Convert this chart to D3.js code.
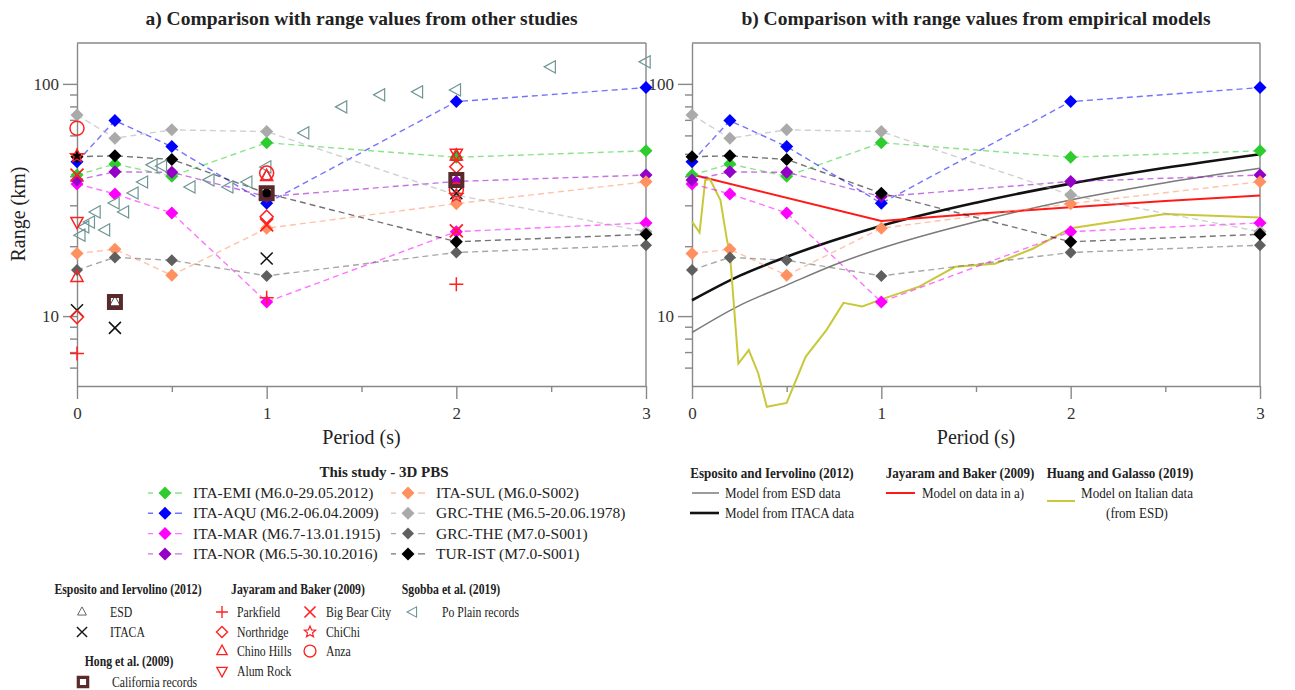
<!DOCTYPE html>
<meta charset="utf-8">
<style>
body { margin: 0; background: #fff; }
text { font-family: "Liberation Serif", "Times New Roman", serif; fill: #222; }
.title { font-weight: bold; font-size: 19.5px; }
.head { font-weight: bold; font-size: 15px; }
.leg { font-size: 15.5px; }
.head2 { font-weight: bold; font-size: 14.5px; }
.leg2 { font-size: 14.5px; }
.tick text { font-size: 17px; fill: #333; }
.axis path, .axis line { stroke: #888; stroke-width: 1.4px; }
</style>
<svg width="1295" height="690"></svg>
<script src="https://d3js.org/d3.v7.min.js"></script>
<script>

// ---- data: this study (3D PBS) ----
var periods = [0, 0.2, 0.5, 1, 2, 3];
var itaEmi   = [40.5, 45.2, 40.0, 55.8, 48.3, 51.5];
var itaAqu   = [46.2, 69.5, 53.7, 30.6, 83.9, 96.4];
var itaMar   = [37.1, 33.6, 27.8, 11.5, 23.1, 25.2];
var itaNor   = [38.6, 41.8, 41.6, 32.7, 38.0, 40.5];
var itaSul   = [18.6, 19.4, 15.0, 23.9, 30.5, 37.9];
var grcThe65 = [73.5, 58.4, 63.4, 62.3, 33.2, 23.1];
var grcThe70 = [15.8, 17.9, 17.4, 14.9, 18.8, 20.2];
var turIst   = [48.6, 49.0, 47.3, 33.8, 20.9, 22.5];

// ---- data: other studies (panel a) ----
var esdT = [0.2, 1, 2],          esdV = [11.5, 40.0, 48.5];
var itacaT = [0, 0.2, 1, 2],     itacaV = [10.6, 8.9, 17.7, 33.8];
var hongT = [0.2, 1, 2],         hongV = [11.5, 33.8, 38.6];
var parkT = [0, 1, 2],           parkV = [6.9, 12.0, 13.7];
var northT = [0, 1, 2],          northV = [9.9, 26.8, 44.0];
var chinoT = [0, 1, 2],          chinoV = [14.7, 40.0, 49.0];
var alumT = [0, 2],              alumV = [25.5, 50.2];
var bigBearT = [0, 1, 2],        bigBearV = [40.5, 24.7, 23.3];
var chiChiT = [0, 2],            chiChiV = [49.0, 33.0];
var anzaT = [0, 1, 2],           anzaV = [64.4, 41.3, 35.0];
var poPlainT = [0.02, 0.04, 0.07, 0.1, 0.15, 0.2, 0.25, 0.3, 0.35, 0.4, 0.45,
                0.6, 0.7, 0.8, 0.9, 1.0, 1.2, 1.4, 1.6, 1.8, 2.0, 2.5, 3.0];
var poPlainV = [22.3, 24.2, 25.4, 28.1, 23.5, 30.7, 28.1, 33.9, 37.8, 44.8, 44.3,
                36.0, 38.6, 36.0, 37.8, 43.9, 61.5, 79.6, 89.7, 92.4, 94.2, 118.4, 124.4];

// ---- data: empirical models (panel b) ----
var esdModelT = [0, 0.25, 0.5, 0.75, 1, 1.5, 2, 2.5, 3];
var esdModelV = [8.5, 11.1, 13.6, 16.6, 19.6, 25.5, 31.6, 37.5, 43.3];
var itacaModelT = [0, 0.25, 0.5, 0.75, 1, 1.5, 2, 2.5, 3];
var itacaModelV = [11.7, 14.9, 18.0, 21.2, 24.5, 30.8, 37.2, 43.5, 49.8];
var jbModelT = [0, 1, 1.5, 2, 2.5, 3];
var jbModelV = [40.7, 25.7, 27.6, 29.4, 31.3, 33.1];
var hgModelT = [0, 0.04, 0.07, 0.095, 0.15, 0.185, 0.2, 0.245, 0.3, 0.35, 0.395, 0.5,
                0.6, 0.71, 0.8, 0.9, 1.0, 1.2, 1.39, 1.6, 1.8, 2.0, 2.5, 3.0];
var hgModelV = [25.5, 22.9, 38.6, 38.8, 31.6, 21.2, 18.7, 6.25, 7.14, 5.66, 4.07, 4.23,
                6.68, 8.7, 11.4, 11.0, 11.8, 13.4, 16.3, 16.8, 19.5, 23.9, 27.5, 26.6];

var series = [
  {name: "ITA-EMI (M6.0-29.05.2012)", v: itaEmi, c: "#2ecc2e", r: 6.5},
  {name: "ITA-AQU (M6.2-06.04.2009)", v: itaAqu, c: "#0000ff", r: 6.5},
  {name: "ITA-MAR (M6.7-13.01.1915)", v: itaMar, c: "#ff00ff", r: 6.5},
  {name: "ITA-NOR (M6.5-30.10.2016)", v: itaNor, c: "#9400c8", r: 6.5},
  {name: "ITA-SUL (M6.0-S002)", v: itaSul, c: "#ff9060", r: 6.5},
  {name: "GRC-THE (M6.5-20.06.1978)", v: grcThe65, c: "#aaaaaa", r: 6.5},
  {name: "GRC-THE (M7.0-S001)", v: grcThe70, c: "#5f5f5f", r: 6},
  {name: "TUR-IST (M7.0-S001)", v: turIst, c: "#000000", r: 6.5}
];

var svg = d3.select("svg");
var red = "#ff2020", poCol = "#6f9595";

// marker paths
var shapes = {
  diamond: function(r) { return "M0," + (-r) + "L" + r + ",0L0," + r + "L" + (-r) + ",0Z"; },
  triUp: function(r) { return "M0," + (-r) + "L" + (r * 0.87) + "," + (r * 0.6) + "L" + (-r * 0.87) + "," + (r * 0.6) + "Z"; },
  triDown: function(r) { return "M0," + r + "L" + (r * 0.87) + "," + (-r * 0.6) + "L" + (-r * 0.87) + "," + (-r * 0.6) + "Z"; },
  triLeft: function(r) { return "M" + (-r) + ",0L" + (r * 0.6) + "," + (-r * 0.87) + "L" + (r * 0.6) + "," + (r * 0.87) + "Z"; },
  cross: function(r) { return "M" + (-r) + "," + (-r) + "L" + r + "," + r + "M" + (-r) + "," + r + "L" + r + "," + (-r); },
  plus: function(r) { return "M" + (-r) + ",0L" + r + ",0M0," + (-r) + "L0," + r; },
  square: function(r) { return "M" + (-r) + "," + (-r) + "H" + r + "V" + r + "H" + (-r) + "Z"; },
  circle: function(r) { return d3.symbol(d3.symbolCircle, Math.PI * r * r)(); },
  star: function(r) {
    var p = [];
    for (var i = 0; i < 10; i++) {
      var a = -Math.PI / 2 + i * Math.PI / 5, rr = i % 2 ? r * 0.45 : r;
      p.push([rr * Math.cos(a), rr * Math.sin(a)]);
    }
    return "M" + p.map(function(q) { return q.join(","); }).join("L") + "Z";
  }
};

var others = [
  {t: esdT, v: esdV, shape: "triUp", r: 6, c: "#555", w: 1},
  {t: poPlainT, v: poPlainV, shape: "triLeft", r: 7, c: poCol, w: 1.2},
  {t: itacaT, v: itacaV, shape: "cross", r: 6, c: "#111", w: 1.5},
  {t: parkT, v: parkV, shape: "plus", r: 7, c: red, w: 1.5},
  {t: northT, v: northV, shape: "diamond", r: 6.5, c: red, w: 1.5},
  {t: chinoT, v: chinoV, shape: "triUp", r: 7, c: red, w: 1.5},
  {t: alumT, v: alumV, shape: "triDown", r: 7, c: red, w: 1.5},
  {t: bigBearT, v: bigBearV, shape: "cross", r: 6.5, c: red, w: 1.8},
  {t: chiChiT, v: chiChiV, shape: "star", r: 7, c: red, w: 1.3},
  {t: anzaT, v: anzaV, shape: "circle", r: 7, c: red, w: 1.5},
  {t: hongT, v: hongV, shape: "square", r: 6, c: "#5a2a2a", w: 4}
];

var y = d3.scaleLog().domain([5, 150]).range([386, 43]);
var minorT = [6, 7, 8, 9, 20, 30, 40, 50, 60, 70, 80, 90];

function drawPanel(x0, x1, title, withOthers) {
  var x = d3.scaleLinear().domain([0, 3]).range([x0, x1]);
  var g = svg.append("g");

  g.append("text").attr("class", "title").attr("x", (x0 + x1) / 2).attr("y", 25)
    .attr("text-anchor", "middle").text(title);

  // frame
  g.append("line").attr("x1", x0).attr("x2", x1).attr("y1", 43).attr("y2", 43)
    .attr("stroke", "#888").attr("stroke-width", 1.4);
  g.append("line").attr("x1", x1).attr("x2", x1).attr("y1", 43).attr("y2", 386)
    .attr("stroke", "#888").attr("stroke-width", 1.4);

  g.append("g").attr("class", "axis").attr("transform", "translate(" + x0 + ",0)")
    .call(d3.axisLeft(y).tickValues([10, 100]).tickSize(14).tickPadding(4).tickFormat(d3.format("d")).tickSizeOuter(0));
  g.append("g").attr("class", "axis").attr("transform", "translate(" + x0 + ",0)")
    .call(d3.axisLeft(y).tickValues(minorT).tickSize(7).tickFormat("").tickSizeOuter(0))
    .select(".domain").remove();

  g.append("g").attr("class", "axis").attr("transform", "translate(0,386)")
    .call(d3.axisBottom(x).tickValues([0, 1, 2, 3]).tickSize(13).tickPadding(8).tickFormat(d3.format("d")).tickSizeOuter(0));
  g.append("g").attr("class", "axis").attr("transform", "translate(0,386)")
    .call(d3.axisBottom(x).tickValues([0.5, 1.5, 2.5]).tickSize(6).tickFormat("").tickSizeOuter(0))
    .select(".domain").remove();

  g.append("text").attr("x", (x0 + x1) / 2).attr("y", 444).attr("text-anchor", "middle")
    .style("font-size", "20px").text("Period (s)");

  var line = d3.line().x(function(d) { return x(d[0]); }).y(function(d) { return y(d[1]); });

  if (!withOthers) {
    var models = [
      {t: esdModelT, v: esdModelV, c: "#7a7a7a", w: 1.5, curve: d3.curveMonotoneX},
      {t: itacaModelT, v: itacaModelV, c: "#111", w: 2.6, curve: d3.curveMonotoneX},
      {t: jbModelT, v: jbModelV, c: "#ff1a1a", w: 2, curve: d3.curveLinear},
      {t: hgModelT, v: hgModelV, c: "#c8c83a", w: 2, curve: d3.curveLinear}
    ];
    models.forEach(function(m) {
      var ml = d3.line().curve(m.curve).x(function(d) { return x(d[0]); }).y(function(d) { return y(d[1]); });
      g.append("path").datum(d3.zip(m.t, m.v)).attr("d", ml)
        .attr("fill", "none").attr("stroke", m.c).attr("stroke-width", m.w);
    });
  }

  series.forEach(function(s) {
    g.append("path").datum(d3.zip(periods, s.v)).attr("d", line)
      .attr("fill", "none").attr("stroke", s.c).attr("stroke-opacity", 0.55)
      .attr("stroke-width", 1.4).attr("stroke-dasharray", "6,4");
  });
  series.forEach(function(s) {
    g.selectAll(null).data(d3.zip(periods, s.v)).enter().append("path")
      .attr("transform", function(d) { return "translate(" + x(d[0]) + "," + y(d[1]) + ")"; })
      .attr("d", shapes.diamond(s.r)).attr("fill", s.c);
  });

  if (withOthers) {
    others.forEach(function(o) {
      g.selectAll(null).data(d3.zip(o.t, o.v)).enter().append("path")
        .attr("transform", function(d) { return "translate(" + x(d[0]) + "," + y(d[1]) + ")"; })
        .attr("d", shapes[o.shape](o.r)).attr("fill", "none")
        .attr("stroke", o.c).attr("stroke-width", o.w);
    });
  }
}

drawPanel(77, 646, "a) Comparison with range values from other studies", true);
drawPanel(692, 1260, "b) Comparison with range values from empirical models", false);

svg.append("text").attr("transform", "translate(25,214) rotate(-90)").attr("text-anchor", "middle")
  .style("font-size", "20px").text("Range (km)");

// ---- legend: this study ----
var lg = svg.append("g");
lg.append("text").attr("class", "head").attr("x", 384).attr("y", 477).attr("text-anchor", "middle").text("This study - 3D PBS");
series.forEach(function(s, i) {
  var cx = i < 4 ? 165 : 408, cy = 493 + (i % 4) * 20.3;
  lg.append("line").attr("x1", cx - 17).attr("x2", cx + 17).attr("y1", cy).attr("y2", cy)
    .attr("stroke", s.c).attr("stroke-opacity", 0.55).attr("stroke-width", 1.4).attr("stroke-dasharray", "5,12,5");
  lg.append("path").attr("transform", "translate(" + cx + "," + cy + ")").attr("d", shapes.diamond(s.r)).attr("fill", s.c);
  lg.append("text").attr("class", "leg").attr("x", cx + 28).attr("y", cy + 5).text(s.name);
});

// condensed text, the lower legends are narrower than their height
function ctext(px, py, str, cls, sx, anchor) {
  lg.append("text").attr("class", cls).attr("text-anchor", anchor || "start")
    .attr("transform", "translate(" + px + "," + py + ") scale(" + sx + ",1)").text(str);
}

// ---- legend: other studies ----
var sx2 = 0.81;
function legMarker(px, py, o, label, tx) {
  lg.append("path").attr("transform", "translate(" + px + "," + py + ")")
    .attr("d", shapes[o.shape](o.r * 0.85)).attr("fill", "none").attr("stroke", o.c).attr("stroke-width", o.shape === "square" ? 3.2 : o.w * 0.9);
  ctext(tx, py + 5, label, "leg2", sx2);
}
ctext(128, 594, "Esposito and Iervolino (2012)", "head2", sx2, "middle");
legMarker(82, 612, others[0], "ESD", 110);
legMarker(82, 632, others[2], "ITACA", 110);
ctext(129, 666, "Hong et al. (2009)", "head2", sx2, "middle");
legMarker(83, 682, {shape: "square", r: 5.5, c: "#5a2a2a", w: 3}, "California records", 112);

ctext(298, 594, "Jayaram and Baker (2009)", "head2", sx2, "middle");
legMarker(222, 612, others[3], "Parkfield", 237);
legMarker(222, 632, others[4], "Northridge", 237);
legMarker(222, 651, others[5], "Chino Hills", 237);
legMarker(222, 671, others[6], "Alum Rock", 237);
legMarker(310, 612, others[7], "Big Bear City", 326);
legMarker(310, 632, others[8], "ChiChi", 326);
legMarker(310, 651, others[9], "Anza", 326);

ctext(451, 594, "Sgobba et al. (2019)", "head2", sx2, "middle");
legMarker(413, 612, others[1], "Po Plain records", 442);

// ---- legend: models ----
var sx3 = 0.9;
function legLine(xa, xb, ly, c, w) {
  lg.append("line").attr("x1", xa).attr("x2", xb).attr("y1", ly).attr("y2", ly).attr("stroke", c).attr("stroke-width", w);
}
ctext(772, 478, "Esposito and Iervolino (2012)", "head2", sx3, "middle");
legLine(692, 719, 493, "#7a7a7a", 1.5);
ctext(725, 498, "Model from ESD data", "leg2", sx3);
legLine(690, 719, 513, "#111", 2.6);
ctext(725, 518, "Model from ITACA data", "leg2", sx3);

ctext(960, 478, "Jayaram and Baker (2009)", "head2", sx3, "middle");
legLine(886, 915, 493, "#ff1a1a", 2);
ctext(922, 498, "Model on data in a)", "leg2", sx3);

ctext(1120, 478, "Huang and Galasso (2019)", "head2", sx3, "middle");
legLine(1047, 1075, 501, "#c8c83a", 2);
ctext(1137, 498, "Model on Italian data", "leg2", sx3, "middle");
ctext(1137, 518, "(from ESD)", "leg2", sx3, "middle");

</script>
